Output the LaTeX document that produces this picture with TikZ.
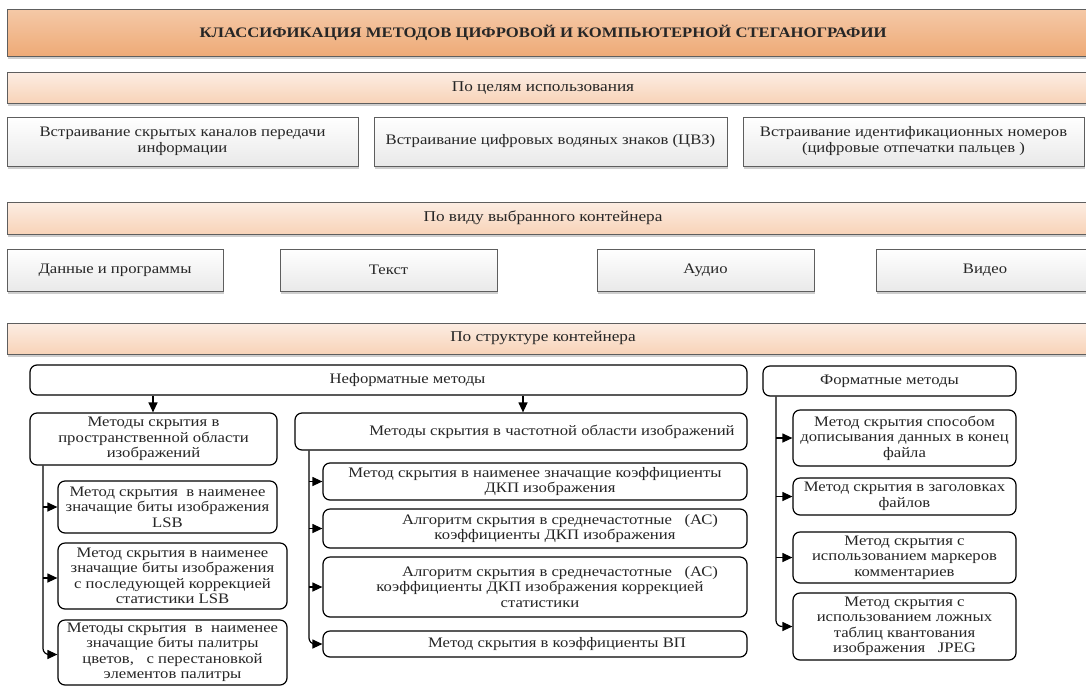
\documentclass[tikz,border=0pt]{standalone}
\usepackage{fontspec}
\setmainfont{Liberation Serif}[FakeStretch=1.15]
\usetikzlibrary{arrows.meta,shadows}
\definecolor{tTop}{HTML}{F5C9A7}
\definecolor{tBot}{HTML}{EEAA77}
\definecolor{bTop}{HTML}{FCEDE3}
\definecolor{bBot}{HTML}{F8D3B8}
\definecolor{gBot}{HTML}{E9E9E9}
\definecolor{gEdge}{HTML}{5E5E5E}
\definecolor{txt}{HTML}{262626}
\newcommand{\pushr}[1]{\hspace*{#1}}
\begin{document}
\begin{tikzpicture}[x=1pt,y=-1pt,
  shadowed/.style={drop shadow={shadow xshift=1.2pt,shadow yshift=-2.5pt,opacity=0.35,fill=black!55}},
  titlebox/.style={draw=gEdge,line width=0.8pt,top color=tTop,bottom color=tBot,shadowed,inner sep=0pt},
  bandbox/.style={draw=gEdge,line width=0.8pt,top color=bTop,bottom color=bBot,shadowed,inner sep=0pt},
  graybox/.style={draw=gEdge,line width=0.8pt,top color=white,bottom color=gBot,shadowed,
     inner sep=1pt,align=center,text=txt,font=\fontsize{14.5}{16}\selectfont},
  rbox/.style={draw=black,line width=1.2pt,rounded corners=7pt,fill=white,
     inner xsep=2pt,inner ysep=1pt,align=center,text=txt,font=\fontsize{14.5}{15.5}\selectfont},
  bandtext/.style={inner sep=0pt,text=txt,font=\fontsize{15}{16}\selectfont},
  titletext/.style={inner sep=0pt,text=black!85,font=\bfseries\fontsize{14.5}{16}\selectfont},
  arr/.style={line width=1.2pt,-{Triangle[length=10pt,width=9pt]}}]
\useasboundingbox (0,0) rectangle (1086,686);
\fill[white] (0,0) rectangle (1086,686);
% title and bands
\node[titlebox,minimum width=1090pt,minimum height=47pt] (tbox) at (552,32.5) {};
\node[titletext] (title) at (543,33) {КЛАССИФИКАЦИЯ МЕТОДОВ ЦИФРОВОЙ И КОМПЬЮТЕРНОЙ СТЕГАНОГРАФИИ};
\node[bandbox,minimum width=1090pt,minimum height=31pt] (band1) at (552,87.5) {};
\node[bandtext] (band1t) at (543,88) {По целям использования};
\node[bandbox,minimum width=1090pt,minimum height=32pt] (band2) at (552,218) {};
\node[bandtext] (band2t) at (543,218) {По виду выбранного контейнера};
\node[bandbox,minimum width=1090pt,minimum height=31pt] (band3) at (552,338.5) {};
\node[bandtext] (band3t) at (543,338) {По структуре контейнера};
% row 1
\node[graybox,minimum width=351pt,minimum height=49pt] (b11) at (182.5,141.5) {Встраивание скрытых каналов передачи\\информации};
\node[graybox,minimum width=353pt,minimum height=49pt] (b12) at (550.5,141.5) {Встраивание цифровых водяных знаков (ЦВЗ)};
\node[graybox,minimum width=341pt,minimum height=49pt] (b13) at (913.5,141.5) {Встраивание идентификационных номеров\\(цифровые отпечатки пальцев )};
% row 2
\node[graybox,minimum width=216pt,minimum height=42pt] (b21) at (115,270) {Данные и программы};
\node[graybox,minimum width=217pt,minimum height=42pt] (b22) at (388.5,270) {Текст};
\node[graybox,minimum width=217pt,minimum height=42pt] (b23) at (705.5,270) {Аудио};
\node[graybox,minimum width=218pt,minimum height=42pt] (b24) at (985,270) {Видео};
% structure
\node[rbox,minimum width=717pt,minimum height=30pt] (nf) at (388.5,380) {\pushr{38pt}Неформатные методы};
\node[rbox,minimum width=253pt,minimum height=30pt] (fm) at (889.5,381) {Форматные методы};
\node[rbox,minimum width=247pt,minimum height=52pt] (sp) at (153.5,439) {Методы скрытия в\\пространственной области\\изображений};
\node[rbox,minimum width=219pt,minimum height=52pt] (la) at (167.5,507) {Метод скрытия \ в наименее\\значащие биты изображения\\LSB};
\node[rbox,minimum width=229pt,minimum height=66pt] (lb) at (172.5,576) {Метод скрытия в наименее\\значащие биты изображения\\с последующей коррекцией\\статистики LSB};
\node[rbox,minimum width=229pt,minimum height=65pt] (lc) at (172.5,652.5) {Методы скрытия \ в \ наименее\\значащие биты палитры\\цветов, \ \ с перестановкой\\элементов палитры};
\node[rbox,minimum width=452pt,minimum height=37pt] (fr) at (521,431.5) {\pushr{62pt}Методы скрытия в частотной области изображений};
\node[rbox,minimum width=424pt,minimum height=37pt] (m1) at (535,481.5) {Метод скрытия в наименее значащие коэффициенты\\\pushr{30pt}ДКП изображения};
\node[rbox,minimum width=424pt,minimum height=39pt] (m2) at (535,528.5) {\pushr{50pt}Алгоритм скрытия в среднечастотные \ \ (АС)\\\pushr{40pt}коэффициенты ДКП изображения};
\node[rbox,minimum width=424pt,minimum height=60pt] (m3) at (535,587) {\pushr{50pt}Алгоритм скрытия в среднечастотные \ \ (АС)\\\pushr{10pt}коэффициенты ДКП изображения коррекцией\\\pushr{10pt}статистики};
\node[rbox,minimum width=424pt,minimum height=26pt] (m4) at (535,644) {\pushr{44pt}Метод скрытия в коэффициенты ВП};
\node[rbox,minimum width=223pt,minimum height=56pt] (r1) at (904.5,438) {Метод скрытия способом\\дописывания данных в конец\\файла};
\node[rbox,minimum width=223pt,minimum height=37pt] (r2) at (904.5,496.5) {Метод скрытия в заголовках\\файлов};
\node[rbox,minimum width=223pt,minimum height=51pt] (r3) at (904.5,557.5) {Метод скрытия с\\использованием маркеров\\комментариев};
\node[rbox,minimum width=223pt,minimum height=67pt] (r4) at (904.5,626.5) {Метод скрытия с\\использованием ложных\\таблиц квантования\\изображения \ \ JPEG};
% connectors
\coordinate (c1) at (153,0);
\coordinate (c2) at (523,0);
\draw[arr] (nf.south -| c1) -- (sp.north -| c1);
\draw[arr] (nf.south -| c2) -- (fr.north -| c2);
\coordinate (lt) at (43,0);
\draw[arr,rounded corners=6pt] (sp.south -| lt) |- ([yshift=-2pt]lc.west);
\draw[arr] (la.west -| lt) -- (la.west);
\draw[arr] ([yshift=-2pt]lb.west -| lt) -- ([yshift=-2pt]lb.west);
\coordinate (mt) at (309,0);
\draw[arr,rounded corners=6pt] (fr.south -| mt) |- (m4.west);
\draw[arr] (m1.west -| mt) -- (m1.west);
\draw[arr] (m2.west -| mt) -- (m2.west);
\draw[arr] (m3.west -| mt) -- (m3.west);
\coordinate (rt) at (776,0);
\draw[arr,rounded corners=6pt] (fm.south -| rt) |- (r4.west);
\draw[arr] (r1.west -| rt) -- (r1.west);
\draw[arr] (r2.west -| rt) -- (r2.west);
\draw[arr] (r3.west -| rt) -- (r3.west);
\end{tikzpicture}
\end{document}
